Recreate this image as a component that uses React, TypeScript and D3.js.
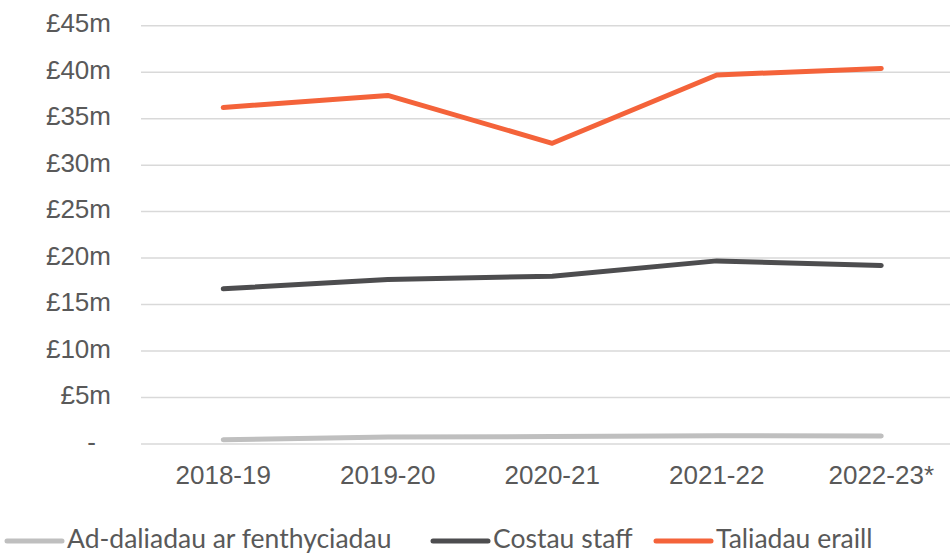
import React, { useEffect, useRef } from "react";
import * as d3 from "d3";

// years on the x axis
const years = ["2018-19", "2019-20", "2020-21", "2021-22", "2022-23*"];

// values in £m
const adDaliadau = [0.45, 0.75, 0.8, 0.9, 0.85];
const costauStaff = [16.7, 17.7, 18.05, 19.7, 19.2];
const taliadauEraill = [36.2, 37.5, 32.35, 39.7, 40.4];

const yTicks = [0, 5, 10, 15, 20, 25, 30, 35, 40, 45];

const seriesNames = ["Ad-daliadau ar fenthyciadau", "Costau staff", "Taliadau eraill"];
const seriesColors = ["#bfbfbf", "#4d4d4f", "#f4633a"];

const W = 950;
const H = 554;

function App() {
    const svgRef = useRef<SVGSVGElement>(null);

    useEffect(() => {
        const svg = d3.select(svgRef.current);
        svg.selectAll("*").remove();

        const left = 141;
        const right = 963.5;
        const top = 25.7;
        const bottom = 444;

        const x = d3.scalePoint().domain(years).range([left, right]).padding(0.5);
        const y = d3.scaleLinear().domain([0, 45]).range([bottom, top]);

        // gridlines
        svg.append("g")
            .selectAll("line")
            .data(yTicks)
            .join("line")
            .attr("x1", left)
            .attr("x2", W)
            .attr("y1", d => y(d))
            .attr("y2", d => y(d))
            .attr("stroke", "#d9d9d9")
            .attr("stroke-width", 1.5);

        // y labels
        svg.append("g")
            .selectAll("text")
            .data(yTicks)
            .join("text")
            .attr("x", d => (d === 0 ? 96 : 111))
            .attr("y", d => y(d) + 6.5)
            .attr("text-anchor", "end")
            .attr("font-family", "Liberation Sans, Arial, sans-serif")
            .attr("font-size", 26)
            .attr("fill", "#595959")
            .text(d => (d === 0 ? "-" : `£${d}m`));

        // x labels
        svg.append("g")
            .selectAll("text")
            .data(years)
            .join("text")
            .attr("x", d => x(d)!)
            .attr("y", 484)
            .attr("text-anchor", "middle")
            .attr("font-family", "Liberation Sans, Arial, sans-serif")
            .attr("font-size", 26)
            .attr("fill", "#595959")
            .text(d => d);

        const line = d3.line<number>()
            .x((_, i) => x(years[i])!)
            .y(d => y(d));

        const all = [adDaliadau, costauStaff, taliadauEraill];
        svg.append("g")
            .selectAll("path")
            .data(all)
            .join("path")
            .attr("d", d => line(d))
            .attr("fill", "none")
            .attr("stroke", (_, i) => seriesColors[i])
            .attr("stroke-width", 5)
            .attr("stroke-linecap", "round")
            .attr("stroke-linejoin", "round");

        // legend
        const legendX = [7, 433, 656];
        const leg = svg.append("g")
            .selectAll("g")
            .data(seriesNames)
            .join("g")
            .attr("transform", (_, i) => `translate(${legendX[i]},541)`);
        leg.append("line")
            .attr("x1", 0)
            .attr("x2", 55)
            .attr("stroke", (_, i) => seriesColors[i])
            .attr("stroke-width", 5)
            .attr("stroke-linecap", "round");
        leg.append("text")
            .attr("x", 60)
            .attr("y", 6.5)
            .attr("font-family", "Lato, sans-serif")
            .attr("font-size", 26.5)
            .attr("fill", "#595959")
            .text(d => d);
    }, []);

    return (
        <svg
            ref={svgRef}
            width={W}
            height={H}
            style={{ position: "absolute", left: 0, top: 0, background: "#fff" }}
        />
    );
}

export default App;
